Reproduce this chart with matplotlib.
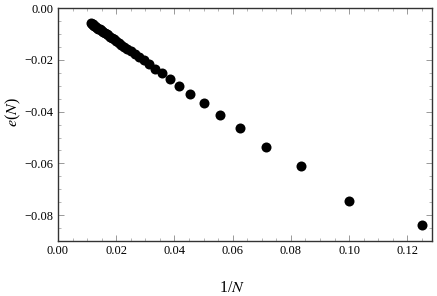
import numpy as np
import matplotlib.pyplot as plt
from matplotlib.ticker import MultipleLocator, FuncFormatter

# system sizes and the energy estimates
N = [8, 10, 12, 14, 16, 18, 20, 22, 24, 26, 28, 30, 32,
     34, 36, 38, 40, 42, 44, 46, 48, 50, 52, 54, 56, 58, 60,
     62, 64, 66, 68, 70, 72, 74, 76, 78, 80, 82, 84, 86, 88]
e = [-0.0838, -0.0744, -0.0609, -0.0535, -0.0463, -0.0413, -0.0368,
     -0.0333, -0.0301, -0.0275, -0.0252, -0.0234, -0.0216,
     -0.0201, -0.0189, -0.0177, -0.0167, -0.0157, -0.0149, -0.0141,
     -0.0134, -0.0127, -0.0121, -0.0115, -0.0110, -0.0105, -0.0101,
     -0.0097, -0.0093, -0.0089, -0.0085, -0.0082, -0.0079, -0.0076,
     -0.0073, -0.0070, -0.0068, -0.0066, -0.0063, -0.0061, -0.0059]

x = 1.0 / np.array(N)

plt.rcParams['font.family'] = ['Liberation Serif', 'DejaVu Serif']
plt.rcParams['mathtext.fontset'] = 'stix'


def fmt(v, pos):
    s = '%.2f' % abs(v)
    return ('\u2212' + s) if v < -1e-9 else s


fig = plt.figure(figsize=(4.37, 2.96), dpi=100)
ax = fig.add_axes([0.1327, 0.1858, 0.8559, 0.7865])

ax.scatter(x, e, s=52, color='black', zorder=3, linewidths=0)

ax.set_xlim(0, 0.1285)
ax.set_ylim(-0.09, 0.0)
ax.xaxis.set_major_locator(MultipleLocator(0.02))
ax.xaxis.set_minor_locator(MultipleLocator(0.005))
ax.yaxis.set_major_locator(MultipleLocator(0.02))
ax.yaxis.set_minor_locator(MultipleLocator(0.005))
ax.xaxis.set_major_formatter(FuncFormatter(fmt))
ax.yaxis.set_major_formatter(FuncFormatter(fmt))

ax.tick_params(which='both', direction='in', top=True, right=True,
               color='#999999', labelsize=9, pad=3)
ax.tick_params(which='major', length=4, width=0.7)
ax.tick_params(which='minor', length=2, width=0.5)
for sp in ax.spines.values():
    sp.set_color('#333333')
    sp.set_linewidth(1.0)

fig.text(0.53, 0.027, r'1/$N$', fontsize=11.5, ha='center', va='center')
fig.text(0.03, 0.62, r'$e$($N$)', fontsize=11.5, ha='center', va='center',
         rotation=90)

fig.savefig('out.png', dpi=100)
